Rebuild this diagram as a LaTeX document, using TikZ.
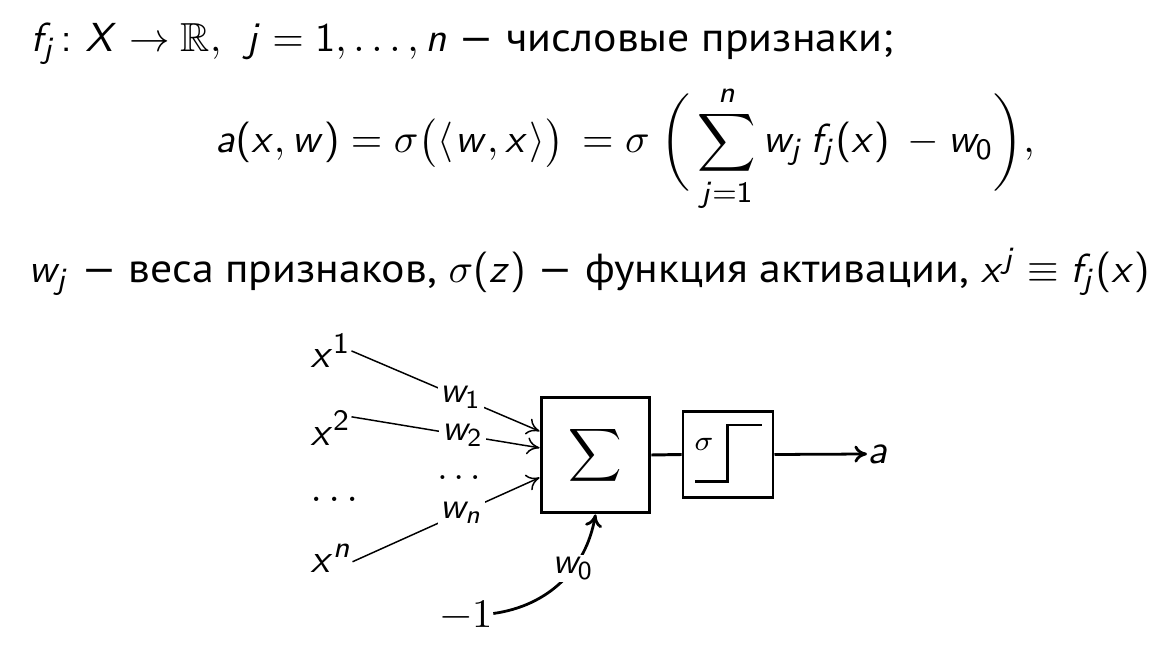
\RequirePackage{fix-cm}
\documentclass[tikz,border=0pt]{standalone}
\usepackage{amsmath,amssymb}
\usepackage[no-math]{fontspec}
\setmainfont{PT Sans}[FakeStretch=1.08]
\newfontfamily\lmrfont{Latin Modern Roman}
\DeclareSymbolFont{sfletters}{OT1}{cmss}{m}{sl}
\SetSymbolFont{operators}{normal}{OT1}{cmss}{m}{n}
\DeclareMathSymbol{a}{\mathalpha}{sfletters}{`a}
\DeclareMathSymbol{f}{\mathalpha}{sfletters}{`f}
\DeclareMathSymbol{j}{\mathalpha}{sfletters}{`j}
\DeclareMathSymbol{n}{\mathalpha}{sfletters}{`n}
\DeclareMathSymbol{w}{\mathalpha}{sfletters}{`w}
\DeclareMathSymbol{x}{\mathalpha}{sfletters}{`x}
\DeclareMathSymbol{z}{\mathalpha}{sfletters}{`z}
\DeclareMathSymbol{X}{\mathalpha}{sfletters}{`X}
\usetikzlibrary{arrows.meta,calc}
\tikzset{
  txt/.style={anchor=base west, inner sep=0pt, font=\fontsize{10.95}{13}\selectfont},
  dg/.style={inner sep=0pt, font=\fontsize{10.95}{13}\selectfont},
  lbl/.style={fill=white, inner sep=0.7pt, font=\fontsize{10}{12}\selectfont},
  blk/.style={draw, line width=0.8pt, inner sep=0pt},
  inarr/.style={line width=0.4pt, -{To[length=3.4pt,width=4.6pt]}},
  thick arr/.style={line width=0.75pt, -{To[length=3.4pt,width=4.6pt]}},
}
\begin{document}
\begin{tikzpicture}[x=0.27pt,y=-0.27pt]
\useasboundingbox (0,0) rectangle (1171,654);
% text lines
\node[txt] (l1) at (30,52) {$f_j\colon X\to\mathbb{R},\hspace{0.45em}j=1,\dots,n$ — числовые признаки;};
\node[txt] (l2) at (215,153) {$\displaystyle a(x,w)=\sigma\bigl(\langle\mkern1mu w,x\mkern1mu\rangle\bigr)\mkern3mu=\sigma\mkern5mu\biggl(\mkern3mu\sum_{j=1}^{n}w_j\,f_j(x)\mkern4mu-w_0\biggr),$};
\node[txt] (l3) at (28,283) {$w_j$ — веса признаков, $\sigma(z)$ — функция активации, $x^j\equiv f_j(x)$};
% diagram
\node[dg, anchor=base west] (x1) at (310,368) {$x^1$};
\node[dg, anchor=base west] (x2) at (310,445) {$x^2$};
\node[dg, anchor=base west] (xd) at (310,502) {$\dots$};
\node[dg, anchor=base west] (xn) at (310,572) {$x^n$};
\node[dg, anchor=base west] (m1) at (440,627) {\lmrfont −1};
\node[blk, minimum width=29.4pt, minimum height=31.3pt] (sum) at (595.5,455) {$\displaystyle\sum$};
\node[blk, minimum width=24.3pt, minimum height=23pt] (act) at (728,454.5) {};
\node[inner sep=0pt, font=\fontsize{7.6}{9}\selectfont] (sg) at (704,444) {$\sigma$};
\draw[line width=0.7pt] (695,481.7) -- (727.3,481.7) -- (727.3,425) -- (761.7,425);
\node[dg, anchor=west] (aout) at (867,454) {$a$};
\coordinate (e1) at ($(sum.north west)!0.30!(sum.south west)$);
\coordinate (e2) at ($(sum.north west)!0.44!(sum.south west)$);
\coordinate (en) at ($(sum.north west)!0.69!(sum.south west)$);
\draw[inarr] (x1.east) -- node[lbl, pos=0.58] {$w_1$} (e1);
\draw[inarr] ([yshift=3pt]x2.east) -- node[lbl, pos=0.59] {$w_2$} (e2);
\draw[inarr] ([yshift=-1pt]xn.east) -- node[lbl, pos=0.58] {$w_n$} (en);
\node[inner sep=0pt, anchor=base, font=\fontsize{10}{12}\selectfont] (ld) at (462,479) {$\dots$};
\draw[thick arr] (m1.east) to[out=8,in=-100] node[lbl, pos=0.62] {$w_0$} (sum.south);
\draw[line width=0.8pt] (sum.east) -- (act.west);
\draw[thick arr] (act.east) -- (aout.west);
\end{tikzpicture}
\end{document}
